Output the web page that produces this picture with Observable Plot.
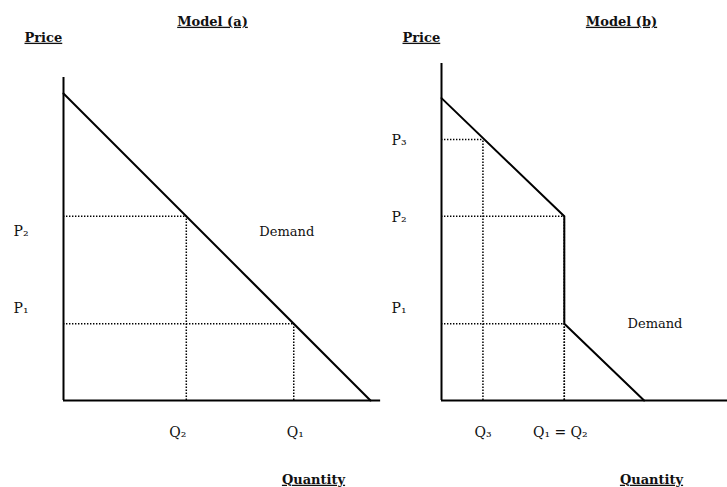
<!DOCTYPE html>
<html>
<head>
<meta charset="utf-8">
<script src="https://cdn.jsdelivr.net/npm/d3@7"></script>
<script src="https://cdn.jsdelivr.net/npm/@observablehq/plot@0.6"></script>
<style>
  html, body { margin: 0; padding: 0; background: white; }
  #wrap { position: relative; width: 727px; height: 487px; }
  #wrap svg { position: absolute; left: 0; top: 0; }
</style>
</head>
<body>
<div id="wrap"></div>
<script>
// ---------- Model (a) ----------
const demandA = [{q: 0, p: 10}, {q: 10, p: 0}];
const pointsA = [{q: 4, p: 6}, {q: 7.5, p: 2.5}];
const priceLabelsA = [{name: "P₂", p: 5.5}, {name: "P₁", p: 3.0}];
const qtyLabelsA = [{name: "Q₂", q: 3.72}, {name: "Q₁", q: 7.55}];
const axisA = {pTop: 10.52, qEnd: 10.33};
const demandLabelA = [{name: "Demand", q: 6.38, p: 5.5}];

// ---------- Model (b) ----------
const demandB = [{q: 0, p: 9.85}, {q: 4, p: 6}, {q: 4, p: 2.5}, {q: 6.6, p: 0}];
const pointsB = [{q: 1.35, p: 8.5}, {q: 4, p: 6}, {q: 4, p: 2.5}];
const priceLabelsB = [{name: "P₃", p: 8.47}, {name: "P₂", p: 5.96}, {name: "P₁", p: 3.0}];
const qtyLabelsB = [{name: "Q₃", q: 1.35}, {name: "Q₁ = Q₂", q: 3.87}];
const axisB = {pTop: 10.98, qEnd: 9.4};
const demandLabelB = [{name: "Demand", q: 6.06, p: 2.5}];

const FONT = "DejaVu Serif";
const W = 727, H = 487;

function panel(o) {
  const dotted = {stroke: "black", strokeWidth: 1.5, strokeDasharray: "1.4,1.6"};
  return Plot.plot({
    width: W, height: H,
    margin: 0,
    style: {background: "transparent", fontFamily: FONT, overflow: "visible"},
    x: {domain: [0, 10], range: [o.x0, o.x0 + 307], axis: null},
    y: {domain: [0, 10], range: [400, 93], axis: null},
    marks: [
      Plot.ruleY(o.points, {y: "p", x1: 0, x2: "q", ...dotted}),
      Plot.ruleX(o.points, {x: "q", y1: 0, y2: "p", ...dotted}),
      Plot.ruleX([0], {y1: 0, y2: o.axis.pTop, stroke: "black", strokeWidth: 2}),
      Plot.ruleY([0], {x1: 0, x2: o.axis.qEnd, stroke: "black", strokeWidth: 2}),
      Plot.line(o.demand, {x: "q", y: "p", stroke: "black", strokeWidth: 2}),
      Plot.text(o.priceLabels, {x: 0, y: "p", text: "name", dx: -50, textAnchor: "start", fontSize: 14, fill: "#111"}),
      Plot.text(o.qtyLabels, {x: "q", y: 0, text: "name", dy: 32, fontSize: 14, fill: "#111"}),
      Plot.text(o.demandLabel, {x: "q", y: "p", text: "name", textAnchor: "start", fontSize: 13, fill: "#111"}),
      Plot.text(["Price"], {frameAnchor: "top-left", dx: o.priceX, dy: 32, textAnchor: "start", fontWeight: "bold", fontSize: 13, fill: "#111"}),
      Plot.text([o.title], {frameAnchor: "top-left", dx: o.titleX, dy: 16, textAnchor: "middle", fontWeight: "bold", fontSize: 13, fill: "#111"}),
      Plot.text(["Quantity"], {frameAnchor: "top-left", dx: o.qtyX, dy: 474, textAnchor: "middle", fontWeight: "bold", fontSize: 13, fill: "#111"})
    ]
  });
}

const underline = new Set(["Price", "Model (a)", "Model (b)", "Quantity"]);
const wrap = document.getElementById("wrap");
const a = panel({x0: 63, points: pointsA, demand: demandA, priceLabels: priceLabelsA, qtyLabels: qtyLabelsA,
  axis: axisA, demandLabel: demandLabelA, title: "Model (a)", titleX: 212, priceX: 24, qtyX: 313});
const b = panel({x0: 441, points: pointsB, demand: demandB, priceLabels: priceLabelsB, qtyLabels: qtyLabelsB,
  axis: axisB, demandLabel: demandLabelB, title: "Model (b)", titleX: 621, priceX: 402, qtyX: 651});
for (const svg of [a, b]) {
  d3.select(svg).selectAll("text").filter(function() { return underline.has(this.textContent); })
    .style("text-decoration", "underline");
  wrap.appendChild(svg);
}
</script>
</body>
</html>
